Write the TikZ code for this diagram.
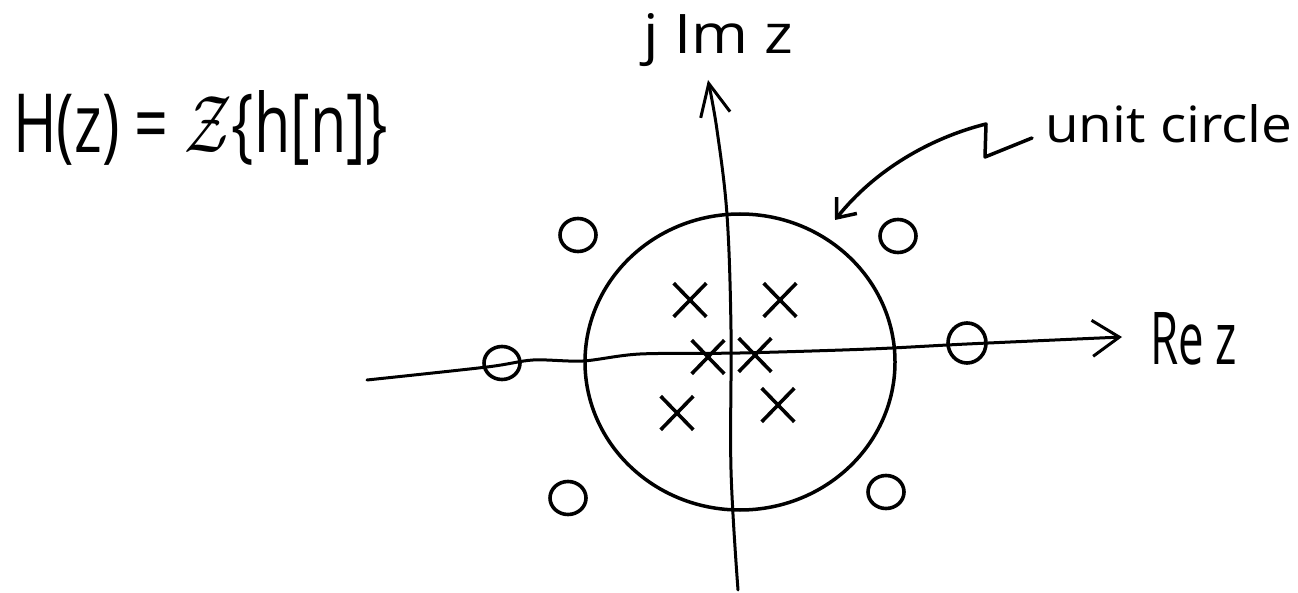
\documentclass[tikz,border=0pt]{standalone}
\usepackage{fontspec}
\setmainfont{Open Sans}
\usetikzlibrary{arrows.meta,shapes.geometric,shapes.misc}
\newcommand{\fitlabel}[3]{\resizebox{#1}{#2}{#3}}
\begin{document}
\begin{tikzpicture}[x=1pt,y=-1pt,
  ink/.style={line width=3.5pt, line cap=round, line join=round},
  axisline/.style={ink, line width=3pt},
  zeronode/.style={draw, ellipse, line width=3.6pt, minimum width=36pt, minimum height=33pt, inner sep=0pt},
  polenode/.style={draw, cross out, line width=3.6pt, minimum width=29pt, minimum height=30pt, inner sep=0pt},
  lbl/.style={inner sep=0pt, anchor=base west}
]
\useasboundingbox (0,0) rectangle (1298,593);

% unit circle
\node[draw, ellipse, line width=3.5pt, minimum width=310pt, minimum height=296pt, inner sep=0pt] (uc) at (740,362) {};

% axes
\draw[axisline, -{Straight Barb[length=27pt,width=36pt]}] plot[smooth, tension=0.5] coordinates {(367,380) (487,367) (533,360) (583,361) (640,354) (740,353) (870,349) (967,344) (1122,337)};
\draw[axisline, -{Straight Barb[length=32pt,width=30pt]}] plot[smooth, tension=0.6] coordinates {(738,590) (731,470) (731,330) (727,215) (717,130) (708,80)};

% zeros
\node[zeronode] (z1) at (578,235) {};
\node[zeronode] (z2) at (898,236) {};
\node[zeronode] (z3) at (502,363) {};
\node[zeronode, minimum width=38pt, minimum height=40pt] (z4) at (967,343) {};
\node[zeronode] (z5) at (568,498) {};
\node[zeronode] (z6) at (886,492) {};

% poles
\node[polenode] (p1) at (690,300) {};
\node[polenode] (p2) at (780,300) {};
\node[polenode] (p3) at (708,357) {};
\node[polenode] (p4) at (755,355) {};
\node[polenode] (p5) at (677,413) {};
\node[polenode] (p6) at (778,405) {};

% labels
\node[lbl] (hz) at (13,153) {\fitlabel{375pt}{62pt}{H(z) = $\mathcal{Z}$\{h[n]\}}};
\node[lbl] (im) at (643,54) {\fitlabel{150pt}{40pt}{j Im z}};
\node[lbl] (re) at (1150,365) {\fitlabel{87pt}{52pt}{Re z}};
\node[lbl] (ucl) at (1045,143) {\fitlabel{247pt}{38pt}{unit circle}};

% pointer to the unit circle
\coordinate (sq1) at (1032,138);
\coordinate (sq2) at (985,157);
\coordinate (sq3) at (986,124);
\coordinate (tip) at (835,220);
\draw[ink, -{Straight Barb[length=16pt,width=26pt]}] (sq1) -- (sq2) -- (sq3) .. controls (930,138) and (875,170) .. (tip);
\end{tikzpicture}
\end{document}
